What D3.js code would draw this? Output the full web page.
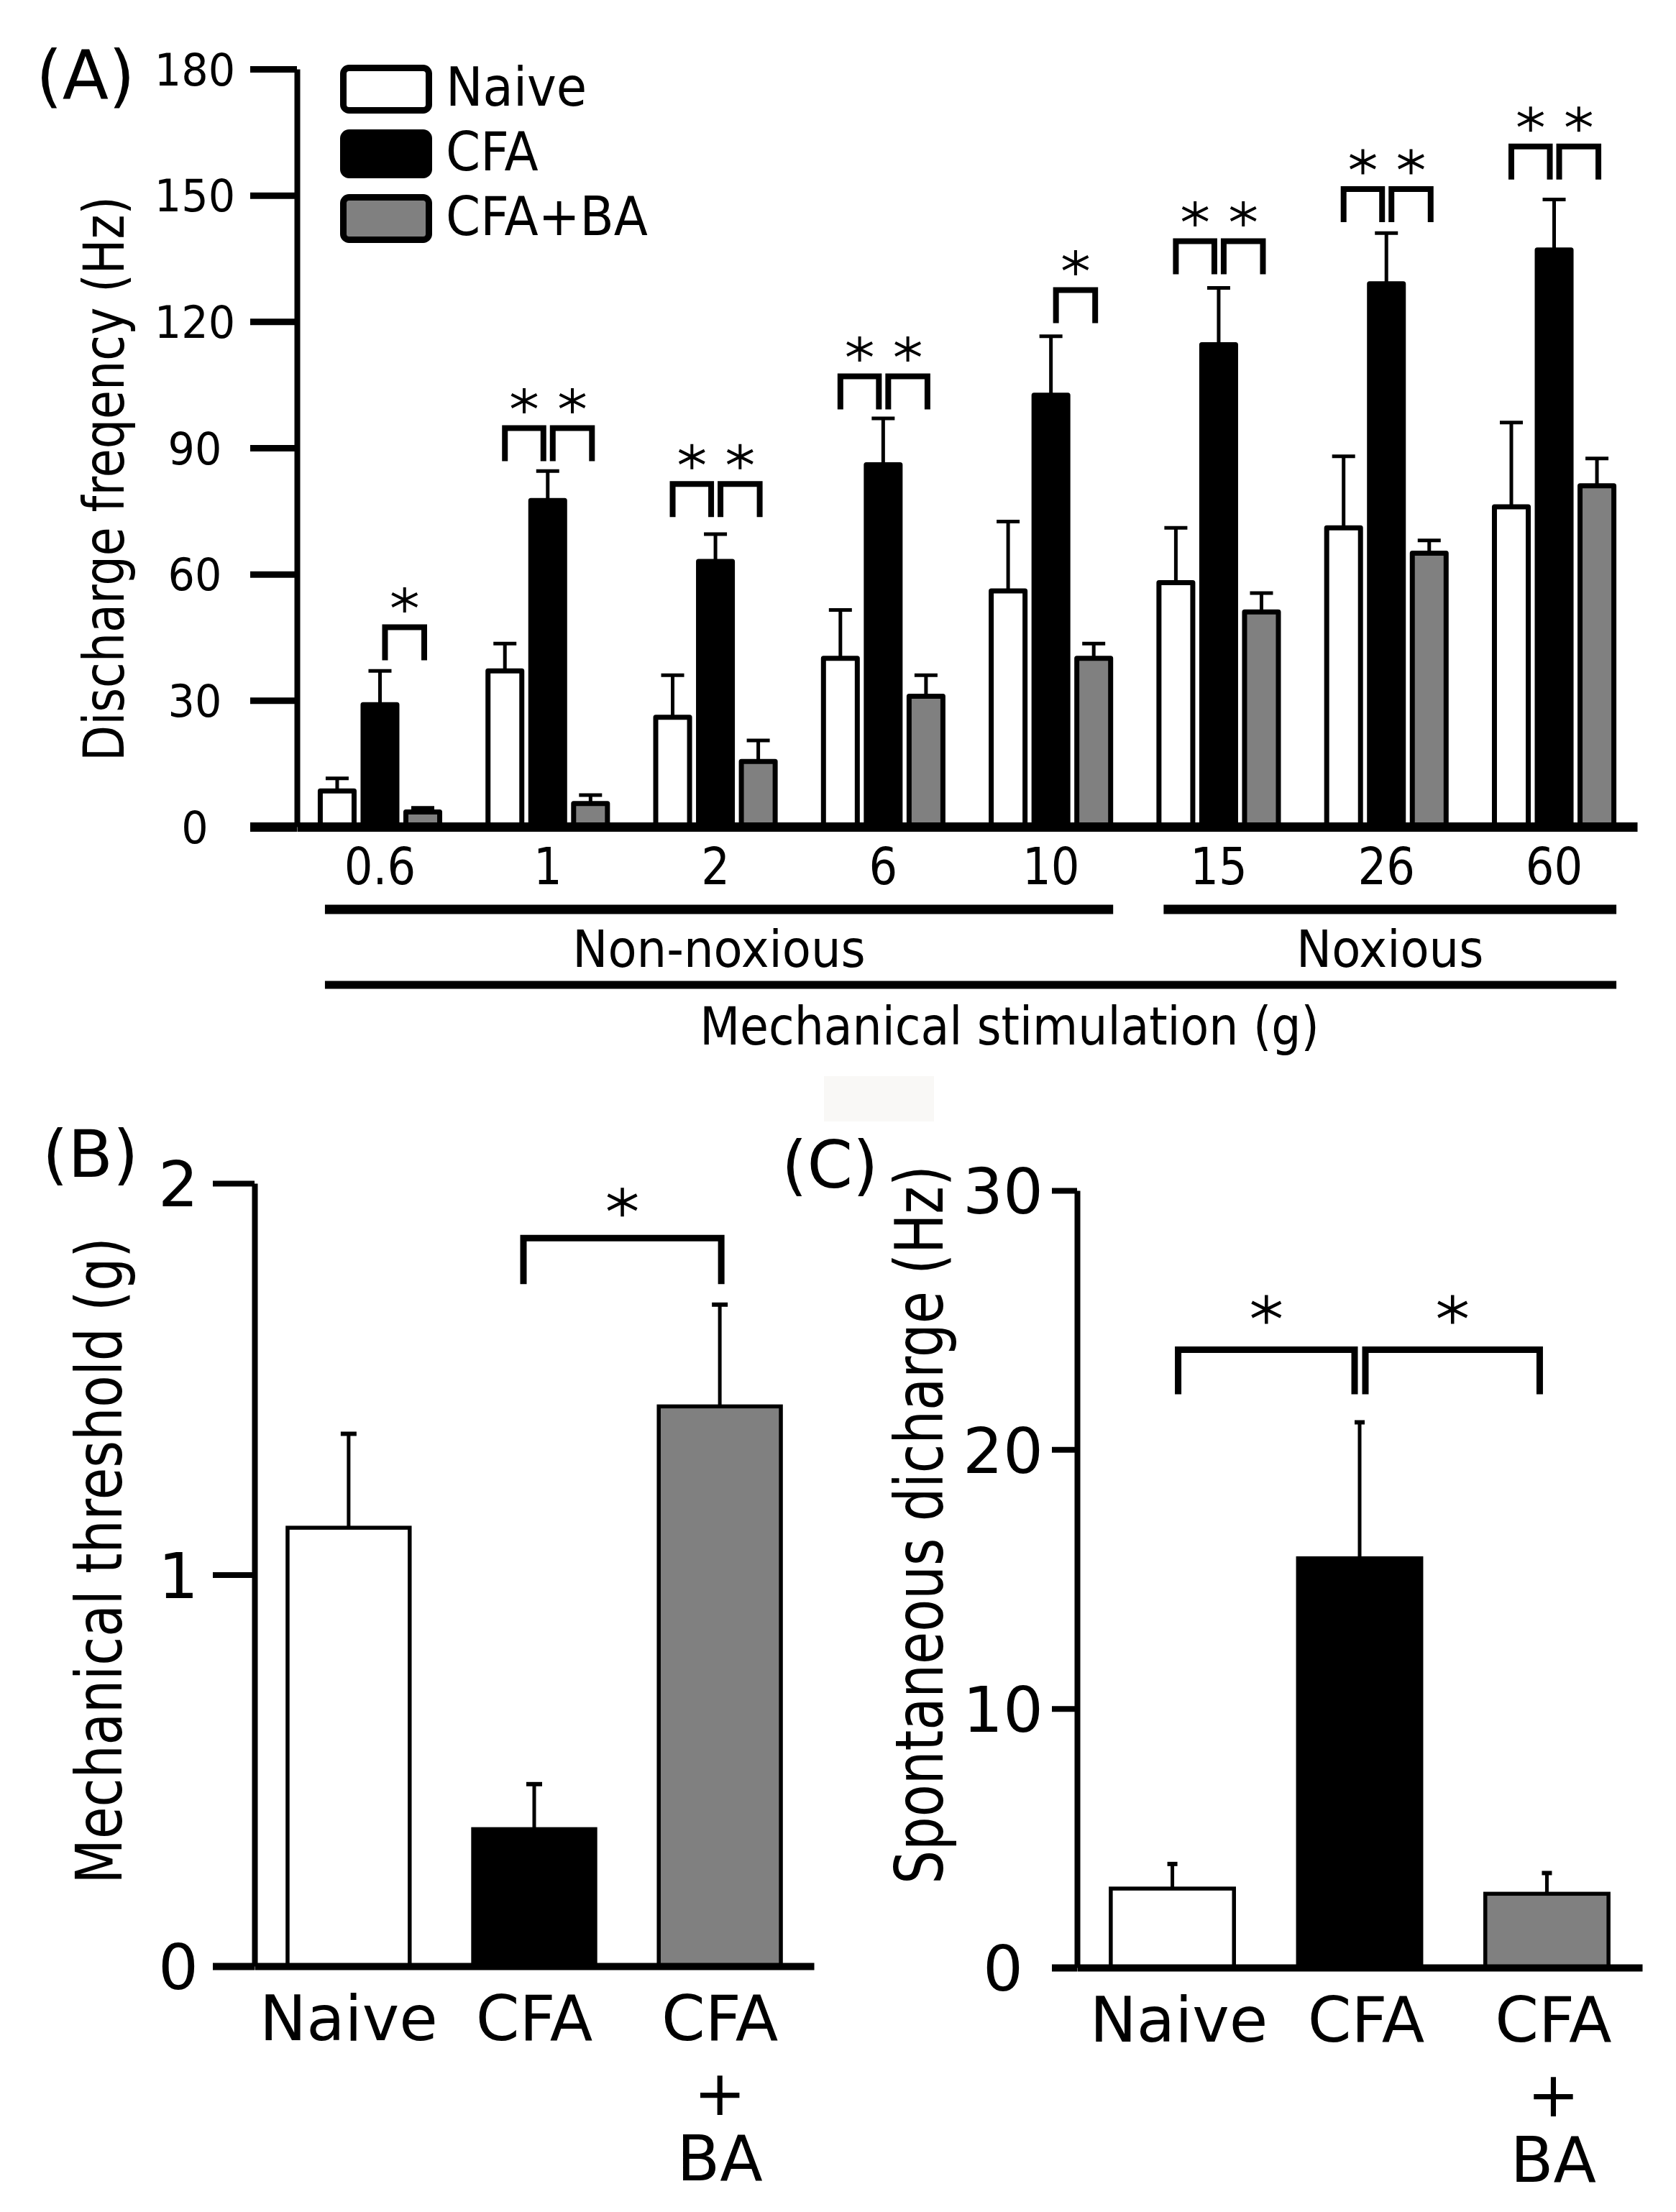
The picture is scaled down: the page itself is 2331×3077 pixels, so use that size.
<!DOCTYPE html>
<html>
<head>
<meta charset="utf-8">
<script src="https://cdn.jsdelivr.net/npm/d3@7"></script>
<style>
  html, body { margin: 0; padding: 0; background: #fff; }
  svg { display: block; }
  text { font-family: "DejaVu Sans", Verdana, sans-serif; fill: #000; }
</style>
</head>
<body>
<svg id="chart" width="2331" height="3077"></svg>
<script>
// ---------------- DATA ----------------
// Panel A: discharge frequency (Hz) by mechanical stimulation (g)
const doses      = ["0.6", "1", "2", "6", "10", "15", "26", "60"];
const groupsA    = ["Naive", "CFA", "CFA+BA"];
const naiveA     = [8.5, 37, 26, 40, 56, 58, 71, 76];
const naiveSemA  = [3, 6.5, 10, 11.5, 16.5, 13, 17, 20];
const cfaA       = [29, 77.5, 63, 86, 102.5, 114.5, 129, 137];
const cfaSemA    = [8, 7, 6.5, 11, 14, 13.5, 12, 12];
const baA        = [3.5, 5.5, 15.5, 31, 40, 51, 65, 81];
const baSemA     = [1, 2, 5, 5, 3.5, 4.5, 3, 6.5];
const yTicksA    = [0, 30, 60, 90, 120, 150, 180];
// significance: [dose, from group, to group, bracket level (Hz)]
const sigA = [
  ["0.6", "CFA", "CFA+BA", 47.4],
  ["1", "Naive", "CFA", 94.7], ["1", "CFA", "CFA+BA", 94.7],
  ["2", "Naive", "CFA", 81.4], ["2", "CFA", "CFA+BA", 81.4],
  ["6", "Naive", "CFA", 107], ["6", "CFA", "CFA+BA", 107],
  ["10", "CFA", "CFA+BA", 127.5],
  ["15", "Naive", "CFA", 139.1], ["15", "CFA", "CFA+BA", 139.1],
  ["26", "Naive", "CFA", 151.5], ["26", "CFA", "CFA+BA", 151.5],
  ["60", "Naive", "CFA", 161.6], ["60", "CFA", "CFA+BA", 161.6]
];
const rangesA = [["Non-noxious", "0.6", "10"], ["Noxious", "15", "60"]];
const xTitleA = "Mechanical stimulation (g)";
const yTitleA = "Discharge freqency (Hz)";

// Panels B and C
const groupsBC     = ["Naive", "CFA", "CFA+BA"];
const labelLinesBC = [["Naive"], ["CFA"], ["CFA", "+", "BA"]];
const threshB      = [1.12, 0.35, 1.43];
const threshSemB   = [0.24, 0.115, 0.26];
const yTicksB      = [0, 1, 2];
const sigB         = [["CFA", "CFA+BA", 1.86]];
const yTitleB      = "Mechanical threshold (g)";

const spontC       = [3.05, 15.8, 2.85];
const spontSemC    = [0.95, 5.25, 0.8];
const yTicksC      = [0, 10, 20, 30];
const sigC         = [["Naive", "CFA", 23.85], ["CFA", "CFA+BA", 23.85]];
const yTitleC      = "Spontaneous dicharge (Hz)";

const fills = { "Naive": "#ffffff", "CFA": "#000000", "CFA+BA": "#808080" };

// ---------------- HELPERS ----------------
const svg = d3.select("#chart");

function label(g, str, x, y, size, o = {}) {
  const sx = o.sx || 1, rot = o.rot || 0;
  return g.append("text")
    .attr("transform", `translate(${x},${y}) rotate(${rot}) scale(${sx},1)`)
    .attr("font-size", size)
    .attr("text-anchor", o.anchor || "middle")
    .text(str);
}

function star(g, cx, cy, r, sw) {
  const d = `M${cx},${cy - r}V${cy + r}` +
            `M${cx - r},${cy - r * 0.5}L${cx + r},${cy + r * 0.5}` +
            `M${cx - r},${cy + r * 0.5}L${cx + r},${cy - r * 0.5}`;
  g.append("path").attr("d", d).attr("stroke", "#000").attr("stroke-width", sw).attr("fill", "none");
}

function bracket(g, x1, x2, y, leg, sw) {
  g.append("path")
    .attr("d", `M${x1},${y + leg}V${y}H${x2}V${y + leg}`)
    .attr("fill", "none").attr("stroke", "#000")
    .attr("stroke-width", sw).attr("stroke-linejoin", "miter");
}

// faint scan artefact
svg.append("rect").attr("x", 1146).attr("y", 1497).attr("width", 153).attr("height", 63).attr("fill", "#f9f8f6");

// ---------------- PANEL A ----------------
(function () {
  const g = svg.append("g");
  const y = d3.scaleLinear().domain([0, 180]).range([1150, 96]);
  const x = d3.scaleBand().domain(doses).range([413, 2277]).paddingInner(0.258).paddingOuter(0.124);
  const bw = x.bandwidth();
  const xi = d3.scaleBand().domain(groupsA).range([3.5, bw - 3.5]).paddingInner(0.21);
  const means = { "Naive": naiveA, "CFA": cfaA, "CFA+BA": baA };
  const sems  = { "Naive": naiveSemA, "CFA": cfaSemA, "CFA+BA": baSemA };
  const cx = (dose, grp) => x(dose) + xi(grp) + xi.bandwidth() / 2;

  const rows = [];
  doses.forEach((d, i) => groupsA.forEach(s => rows.push({ d, s, v: means[s][i], e: sems[s][i] })));

  // error bars (behind bars)
  const eb = g.append("g").attr("stroke", "#000");
  rows.forEach(r => {
    const c = cx(r.d, r.s);
    eb.append("line").attr("x1", c).attr("x2", c).attr("y1", y(r.v)).attr("y2", y(r.v + r.e)).attr("stroke-width", 5);
    eb.append("line").attr("x1", c - 16).attr("x2", c + 16).attr("y1", y(r.v + r.e)).attr("y2", y(r.v + r.e)).attr("stroke-width", 5);
  });

  g.append("g").selectAll("rect").data(rows).join("rect")
    .attr("x", r => x(r.d) + xi(r.s))
    .attr("width", xi.bandwidth())
    .attr("y", r => y(r.v))
    .attr("height", r => y(0) - y(r.v))
    .attr("fill", r => fills[r.s])
    .attr("stroke", "#000").attr("stroke-width", 7).attr("stroke-linejoin", "round");

  // brackets and stars
  sigA.forEach(([d, a, b, lvl]) => {
    const off = a === "Naive" ? [0, -6] : [7, 2];
    const x1 = cx(d, a) + off[0], x2 = cx(d, b) + off[1];
    const yy = y(lvl);
    bracket(g, x1, x2, yy, 46, 8);
    star(g, (x1 + x2) / 2, yy - 38, 17.5, 4);
  });

  // y axis
  const ya = g.append("g").attr("transform", "translate(413,0)")
    .call(d3.axisLeft(y).tickValues(yTicksA).tickSize(65).tickSizeOuter(0).tickFormat(d3.format("d")));
  ya.select(".domain").attr("stroke-width", 8);
  ya.selectAll(".tick line").attr("stroke-width", d => d === 0 ? 13 : 9);
  ya.selectAll(".tick text").attr("x", null).attr("dy", "0.36em")
    .attr("transform", "translate(-142,0) scale(0.95,1)")
    .attr("text-anchor", "middle").attr("font-size", 62).attr("font-family", null);

  // x axis
  const xa = g.append("g").attr("transform", "translate(0,1150)")
    .call(d3.axisBottom(x).tickSize(0).tickSizeOuter(0));
  xa.select(".domain").attr("stroke-width", 13);
  xa.selectAll(".tick text").attr("y", 80).attr("dy", null)
    .attr("transform", "scale(0.88,1)")
    .attr("font-size", 71).attr("font-family", null);

  // range bars
  rangesA.forEach(([name, a, b]) => {
    const x1 = x(a) + 10, x2 = x(b) + bw;
    g.append("line").attr("x1", x1).attr("x2", x2).attr("y1", 1265).attr("y2", 1265)
      .attr("stroke", "#000").attr("stroke-width", 13);
    label(g, name, (x1 + x2) / 2, 1345, 71, { sx: 0.925 });
  });
  g.append("line").attr("x1", x(doses[0]) + 10).attr("x2", x(doses[doses.length - 1]) + bw)
    .attr("y1", 1370).attr("y2", 1370).attr("stroke", "#000").attr("stroke-width", 11);
  label(g, xTitleA, 1404, 1453, 73, { sx: 0.889 });

  // y title
  label(g, yTitleA, 172, 666, 78, { rot: -90, sx: 0.834 });

  // legend
  groupsA.forEach((s, i) => {
    g.append("rect").attr("x", 477.5).attr("y", 94.5 + i * 90).attr("width", 119).attr("height", 59)
      .attr("rx", 8).attr("fill", fills[s]).attr("stroke", "#000").attr("stroke-width", 9);
    label(g, s, 620, 147 + i * 90, 75, { anchor: "start", sx: 0.92 });
  });

  label(g, "(A)", 50, 138, 94, { anchor: "start" });
})();

// ---------------- PANELS B & C ----------------
function smallPanel(opt) {
  const g = svg.append("g");
  const y = d3.scaleLinear().domain(opt.domain).range(opt.yRange);
  const x = d3.scaleBand().domain(groupsBC).range(opt.xRange).paddingInner(0.342).paddingOuter(opt.po);
  const bw = x.bandwidth();
  const cx = k => x(k) + bw / 2;
  const rows = groupsBC.map((k, i) => ({ k, v: opt.means[i], e: opt.sems[i] }));

  const eb = g.append("g").attr("stroke", "#000");
  rows.forEach(r => {
    const c = cx(r.k);
    eb.append("line").attr("x1", c).attr("x2", c).attr("y1", y(r.v)).attr("y2", y(r.v + r.e)).attr("stroke-width", 5);
    eb.append("line").attr("x1", c - opt.cap).attr("x2", c + opt.cap).attr("y1", y(r.v + r.e)).attr("y2", y(r.v + r.e)).attr("stroke-width", 6);
  });

  g.append("g").selectAll("rect").data(rows).join("rect")
    .attr("x", r => x(r.k)).attr("width", bw)
    .attr("y", r => y(r.v)).attr("height", r => y(0) - y(r.v))
    .attr("fill", r => fills[r.k]).attr("stroke", "#000").attr("stroke-width", 5.5);

  opt.sig.forEach(([a, b, lvl], i) => {
    const x1 = cx(a) + opt.brOff[i][0], x2 = cx(b) + opt.brOff[i][1];
    const yy = y(lvl);
    bracket(g, x1, x2, yy, opt.leg, 9);
    star(g, (x1 + x2) / 2, yy - opt.starUp, 20, 4.5);
  });

  const ya = g.append("g").attr("transform", `translate(${opt.xRange[0]},0)`)
    .call(d3.axisLeft(y).tickValues(opt.ticks).tickSize(opt.tick).tickSizeOuter(0).tickFormat(d3.format("d")));
  ya.select(".domain").attr("stroke-width", 8);
  ya.selectAll(".tick line").attr("stroke-width", d => d === 0 ? 10 : 8);
  ya.selectAll(".tick text").attr("x", null).attr("dy", "0.36em")
    .attr("transform", `translate(${opt.tickLabelX},0)`)
    .attr("text-anchor", "middle").attr("font-size", 88).attr("font-family", null);

  const xa = g.append("g").attr("transform", `translate(0,${opt.yRange[0]})`)
    .call(d3.axisBottom(x).tickSize(0).tickSizeOuter(0).tickFormat(() => ""));
  xa.select(".domain").attr("stroke-width", 10);

  const lineY = [103, 207, 298];
  groupsBC.forEach((k, i) => {
    labelLinesBC[i].forEach((t, j) => label(g, t, cx(k) + opt.labDx, opt.yRange[0] + lineY[j], 87));
  });

  label(g, opt.title, opt.titleX, opt.titleY, opt.titleSize, { rot: -90, sx: opt.titleSx });
  label(g, opt.letter, opt.letterX, opt.letterY, 91, { anchor: "start" });
}

smallPanel({
  domain: [0, 2], yRange: [2735, 1646], xRange: [354, 1132], po: 0.178,
  means: threshB, sems: threshSemB, ticks: yTicksB, tick: 58, tickLabelX: -106,
  cap: 11, sig: sigB, brOff: [[-15, 2]], leg: 64, starUp: 50, labDx: 0,
  title: yTitleB, titleX: 169, titleY: 2171, titleSize: 89, titleSx: 0.816,
  letter: "(B)", letterX: 59, letterY: 1637
});

smallPanel({
  domain: [0, 30], yRange: [2737, 1656], xRange: [1498, 2284], po: 0.18,
  means: spontC, sems: spontSemC, ticks: yTicksC, tick: 35, tickLabelX: -103,
  cap: 7, sig: sigC, brOff: [[8, -7], [8, -10]], leg: 62, starUp: 56, labDx: 9,
  title: yTitleC, titleX: 1311, titleY: 2121, titleSize: 92, titleSx: 0.80,
  letter: "(C)", letterX: 1087, letterY: 1652
});
</script>
</body>
</html>
